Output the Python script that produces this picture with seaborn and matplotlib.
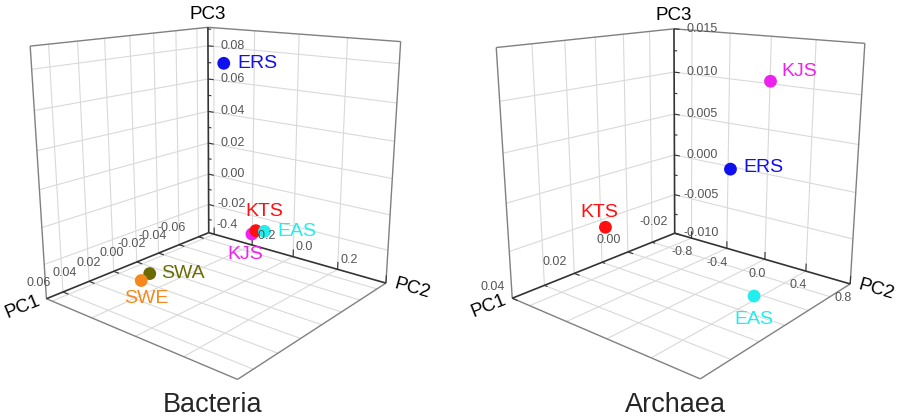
import numpy as np
import pandas as pd
import seaborn as sns
import matplotlib
matplotlib.use("Agg")
import matplotlib.pyplot as plt

# Bacteria PCA scores
bac_sites = ["ERS", "KTS", "EAS", "KJS", "SWA", "SWE"]
bac_pc1 = [-0.065, -0.066, -0.066, -0.064, 0.012, 0.021]
bac_pc2 = [-0.32, -0.160, -0.118, -0.170, -0.29, -0.28]
bac_pc3 = [0.0715, -0.027, -0.026, -0.029, -0.037, -0.038]

# Archaea PCA scores
arc_sites = ["KJS", "ERS", "KTS", "EAS"]
arc_pc1 = [-0.017, -0.015, 0.0099, 0.0033]
arc_pc2 = [0.066, -0.26, -0.95, 0.395]
arc_pc3 = [0.0105, 0.0004, -0.0057, -0.0096]

# axis ticks and their labels
bac_pc1_ticks = [-0.06, -0.04, -0.02, 0.00, 0.02, 0.04, 0.06]
bac_pc1_labels = ["-0.06", "-0.04", "-0.02", "0.00", "0.02", "0.04", "0.06"]
bac_pc2_ticks = [-0.4, -0.2, 0.0, 0.2, 0.4]
bac_pc2_labels = ["-0.4", "-0.2", "0.0", "0.2", ""]
bac_pc3_ticks = [-0.02, 0.00, 0.02, 0.04, 0.06, 0.08]
bac_pc3_labels = ["-0.02", "0.00", "0.02", "0.04", "0.06", "0.08"]

arc_pc1_ticks = [-0.02, -0.01, 0.00, 0.01, 0.02, 0.03, 0.04]
arc_pc1_labels = ["-0.02", "", "0.00", "", "0.02", "", "0.04"]
arc_pc2_ticks = [-0.8, -0.4, 0.0, 0.4, 0.8]
arc_pc2_labels = ["-0.8", "-0.4", "0.0", "0.4", "0.8"]
arc_pc3_ticks = [-0.010, -0.005, 0.000, 0.005, 0.010, 0.015]
arc_pc3_labels = ["-0.010", "-0.005", "0.000", "0.005", "0.010", "0.015"]

site_colors = {"ERS": "#1010ee", "KTS": "#ff0f0f", "EAS": "#22eeee",
               "KJS": "#ee22ee", "SWA": "#6b6b00", "SWE": "#f7891c"}

# where each site label sits relative to its marker (points)
bac_label_pos = {"ERS": (10, 0, "left", "center"), "KTS": (6, 8, "center", "bottom"),
                 "EAS": (9, 0, "left", "center"), "KJS": (-5, -8.5, "center", "top"),
                 "SWA": (8, 0, "left", "center"), "SWE": (4, -6.5, "center", "top")}
arc_label_pos = {"KJS": (8, 7, "left", "center"), "ERS": (9, 1, "left", "center"),
                 "KTS": (-4.5, 4.5, "center", "bottom"), "EAS": (0, -10.5, "center", "top")}

sns.set_theme(style="white")
plt.rcParams["font.family"] = ["Liberation Sans", "DejaVu Sans"]

fig = plt.figure(figsize=(8.99, 4.20), dpi=100)

GRID = "#d9d9d9"
FRAME = "#808080"
DARK = "#333333"
TICKC = "#555555"


def project(ax, x, y, z):
    v = ax.get_proj() @ np.array([x, y, z, 1.0])
    return v[0] / v[3], v[1] / v[3]


def put(ax, x, y, z, s, dx, dy, along=None, **kw):
    # 2D text anchored at the projected 3D point
    px, py = project(ax, x, y, z)
    rot = 0
    if along is not None:
        qx, qy = project(ax, x + along[0], y + along[1], z + along[2])
        rot = np.degrees(np.arctan2(qy - py, qx - px))
        if rot > 90:
            rot -= 180
        elif rot < -90:
            rot += 180
    ax.annotate(s, xy=(px, py), xycoords="data", xytext=(dx, dy),
                textcoords="offset points", rotation=rot, annotation_clip=False,
                zorder=5, **kw)


def line(ax, xs, ys, zs, color, lw, z):
    ax.plot(xs, ys, zs, color=color, lw=lw, zorder=z, solid_capstyle="butt")


def draw_panel(ax, df, lims, ticks, labels, pc1_off, pc2_style, pc3_off, view, aspect,
               label_pos):
    (x0, x1), (y0, y1), (z0, z1) = lims
    xt, yt, zt = ticks
    ax.set_axis_off()
    ax.set_xticks([])
    ax.set_yticks([])
    ax.set_zticks([])
    ax.computed_zorder = False
    ax.set_xlim(x0, x1)
    ax.set_ylim(y0, y1)
    ax.set_zlim(z0, z1)
    ax.view_init(elev=view[0], azim=view[1])
    ax.set_proj_type("persp", focal_length=view[3])
    ax.set_box_aspect(aspect, zoom=view[2])

    xr, yr, zr = x1 - x0, y1 - y0, z1 - z0

    # grid on the two back walls and the floor
    for v in xt:
        if x0 < v < x1:
            line(ax, [v, v], [y0, y0], [z0, z1], GRID, 0.8, 1)
            line(ax, [v, v], [y0, y1], [z0, z0], GRID, 0.8, 1)
    for v in yt:
        if y0 < v < y1:
            line(ax, [x0, x0], [v, v], [z0, z1], GRID, 0.8, 1)
            line(ax, [x0, x1], [v, v], [z0, z0], GRID, 0.8, 1)
    for v in zt:
        if z0 < v < z1:
            line(ax, [x0, x1], [y0, y0], [v, v], GRID, 0.8, 1)
            line(ax, [x0, x0], [y0, y1], [v, v], GRID, 0.8, 1)

    # outer frame
    line(ax, [x0, x1], [y0, y0], [z1, z1], FRAME, 1.0, 2)
    line(ax, [x0, x0], [y0, y1], [z1, z1], FRAME, 1.0, 2)
    line(ax, [x1, x1], [y0, y0], [z0, z1], FRAME, 1.0, 2)
    line(ax, [x0, x0], [y1, y1], [z0, z1], FRAME, 1.0, 2)
    line(ax, [x1, x1], [y0, y1], [z0, z0], FRAME, 1.0, 2)
    line(ax, [x0, x1], [y1, y1], [z0, z0], FRAME, 1.0, 2)

    # main axes along the back edges
    line(ax, [x0, x1], [y0, y0], [z0, z0], DARK, 1.2, 3)
    line(ax, [x0, x0], [y0, y1], [z0, z0], DARK, 1.2, 3)
    line(ax, [x0, x0], [y0, y0], [z0, z1], DARK, 1.2, 3)

    # PC1 ticks + labels
    for v, s in zip(xt, labels[0]):
        f = 0.035 if s else 0.02
        line(ax, [v, v], [y0, y0 + f * yr], [z0, z0], DARK, 0.8, 3)
        if s:
            put(ax, v, y0, z0, s, pc1_off[0], pc1_off[1], fontsize=9, color=TICKC,
                ha="right", va="bottom")
    # PC2 ticks + labels
    ha2, va2, dx2, dy2 = pc2_style
    for v, s in zip(yt, labels[1]):
        line(ax, [x0, x0], [v, v], [z0, z0 + 0.035 * zr], DARK, 0.8, 3)
        if s:
            put(ax, x0, v, z0, s, dx2, dy2, fontsize=9, color=TICKC, ha=ha2, va=va2)
    # PC3 ticks (major + minor) + right-aligned labels
    step = zt[1] - zt[0]
    for v in np.arange(zt[0] - step, zt[-1] + step, step / 2):
        if z0 - 1e-12 <= v <= z1 + 1e-12:
            k = (v - zt[0]) / step
            f = 0.035 if np.isclose(k, round(k)) else 0.02
            line(ax, [x0, x0], [y0, y0 + f * yr], [v, v], DARK, 0.8, 3)
    for v, s in zip(zt, labels[2]):
        put(ax, x0, y0, v, s, pc3_off, 0, fontsize=9, color=TICKC, ha="right", va="center")

    # axis titles
    put(ax, x1, y0, z0, "PC1", -17, -6, along=(xr, 0, 0), fontsize=13.5,
        color="black", ha="center", va="center")
    put(ax, x0, y1, z0, "PC2", 19, -4, along=(0, yr, 0), fontsize=13.5,
        color="black", ha="center", va="center")
    put(ax, x0, y0, z1, "PC3", 0, 9.5, fontsize=13.5, color="black",
        ha="center", va="center")

    # samples
    ax.scatter(df["PC1"], df["PC2"], df["PC3"], c=[site_colors[s] for s in df["site"]],
               s=85, depthshade=False, edgecolors="none", alpha=1, zorder=4)
    for _, r in df.iterrows():
        dx, dy, ha, va = label_pos[r["site"]]
        put(ax, r["PC1"], r["PC2"], r["PC3"], r["site"], dx, dy, fontsize=14,
            color=site_colors[r["site"]], ha=ha, va=va)


bac = pd.DataFrame({"site": bac_sites, "PC1": bac_pc1, "PC2": bac_pc2, "PC3": bac_pc3})
arc = pd.DataFrame({"site": arc_sites, "PC1": arc_pc1, "PC2": arc_pc2, "PC3": arc_pc3})

ax1 = fig.add_axes([-0.0112, 0.096, 0.5, 0.96], projection="3d")
draw_panel(ax1, bac,
           ((-0.071, 0.072), (-0.43, 0.40), (-0.039, 0.091)),
           (bac_pc1_ticks, bac_pc2_ticks, bac_pc3_ticks),
           (bac_pc1_labels, bac_pc2_labels, bac_pc3_labels),
           (-9, 2), ("left", "bottom", 2, 2.5), 26.5,
           (15.5, 39.5, 1.056, 0.36), (1, 0.97, 1.0), bac_label_pos)

ax2 = fig.add_axes([0.5057, 0.094, 0.5, 0.96], projection="3d")
draw_panel(ax2, arc,
           ((-0.02, 0.04), (-1.0, 0.8), (-0.010, 0.015)),
           (arc_pc1_ticks, arc_pc2_ticks, arc_pc3_ticks),
           (arc_pc1_labels, arc_pc2_labels, arc_pc3_labels),
           (-5, 4), ("right", "top", 1, -6), 31.5,
           (15.5, 40.0, 1.05, 0.36), (1, 0.97, 1.0), arc_label_pos)

fig.text(0.236, 0.019, "Bacteria", fontsize=19.5, ha="center", va="baseline")
fig.text(0.751, 0.019, "Archaea", fontsize=19.5, ha="center", va="baseline")

fig.savefig("out.png", dpi=100, facecolor="white")
